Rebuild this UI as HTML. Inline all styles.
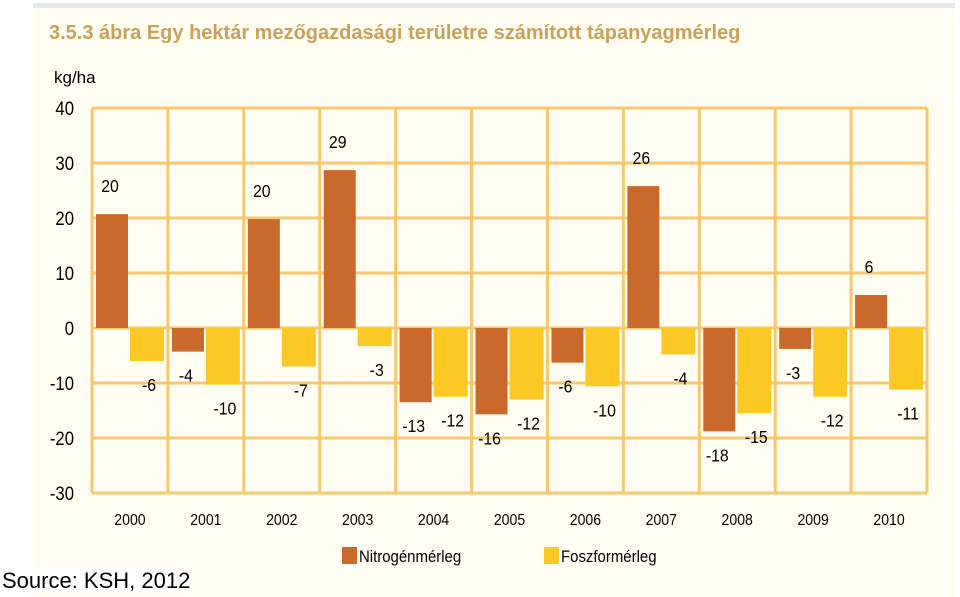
<!DOCTYPE html>
<html><head><meta charset="utf-8">
<style>
body{margin:0;width:960px;height:597px;background:#fff;overflow:hidden;font-family:"Liberation Sans",sans-serif;}
#panel{position:absolute;left:33px;top:8px;width:922px;height:589px;background:#fffdf1;}
#strip{position:absolute;left:33px;top:3px;width:922px;height:5px;background:#e6e8ee;}
#title{position:absolute;left:49px;top:22px;font-size:20px;font-weight:bold;color:#c9a05c;white-space:nowrap;}
#source{position:absolute;left:2px;top:568px;font-size:22px;color:#000;background:#fff;white-space:nowrap;}
svg{position:absolute;left:0;top:0}
svg text{font-family:"Liberation Sans",sans-serif;}
</style></head><body>
<div id="strip"></div>
<div id="panel"></div>
<div id="title">3.5.3 ábra Egy hektár mezőgazdasági területre számított tápanyagmérleg</div>
<svg id="chart" width="960" height="597"></svg>
<div id="source">Source: KSH, 2012</div>
<script>
const categories=["2000","2001","2002","2003","2004","2005","2006","2007","2008","2009","2010"];
const nitrogen=[20.7,-4.3,19.8,28.7,-13.5,-15.7,-6.3,25.8,-18.8,-3.8,6];
const phosphorus=[-6,-10.3,-7,-3.3,-12.5,-13,-10.6,-4.8,-15.5,-12.5,-11.2];
const nitrogenLabels=["20","-4","20","29","-13","-16","-6","26","-18","-3","6"];
const phosphorusLabels=["-6","-10","-7","-3","-12","-12","-10","-4","-15","-12","-11"];
const yTicks=[40,30,20,10,0,-10,-20,-30];
const NS="http://www.w3.org/2000/svg";
const svg=document.getElementById('chart');
const L=92,R=927,T=108,B=493,ymin=-30,ymax=40;
const y=v=>T+(ymax-v)/(ymax-ymin)*(B-T);
const cw=(R-L)/categories.length;
const x=i=>L+i*cw;
function mk(tag,attrs,parent){const e=document.createElementNS(NS,tag);for(const k in attrs)e.setAttribute(k,attrs[k]);(parent||svg).appendChild(e);return e;}
const grid=mk('g',{});


yTicks.forEach(t=>{
  const ln=mk('line',{x1:L,x2:R,y1:y(t),y2:y(t),stroke:'#f8c870','stroke-width':3},grid);
  
  
  const tx=mk('text',{x:74,y:y(t)+7,'text-anchor':'end','font-size':19,transform:`translate(${74*0.12},0) scale(0.88,1)`});
  tx.textContent=t;
  
  
});
for(let i=0;i<=categories.length;i++){
  const ln=mk('line',{x1:x(i),x2:x(i),y1:T,y2:B,stroke:'#f8c870','stroke-width':3},grid);
  
  
}
const unit=mk('text',{x:54,y:83,'font-size':17});
unit.textContent='kg/ha';


function bar(v,x0,w,color,name){
  const r=mk('rect',{x:x0,y:Math.min(y(v),y(0)),width:w,height:Math.abs(y(v)-y(0)),fill:color});
  
  
}
function lbl(txt,cx,v,name){
  const yy=v>=0?y(v)-22:y(v)+30;
  const t=mk('text',{x:cx/0.88,y:yy,'text-anchor':'middle','font-size':18,transform:'scale(0.88,1)'});
  t.textContent=txt;
  
  
}
categories.forEach((c,i)=>{
  bar(nitrogen[i],x(i)+4,32,'#c9692b','bar-nitrogen-'+c);
  bar(phosphorus[i],x(i)+38,34,'#fcc824','bar-phosphorus-'+c);
  lbl(nitrogenLabels[i],x(i)+18,nitrogen[i],'value-nitrogen-'+c);
  lbl(phosphorusLabels[i],x(i)+57,phosphorus[i],'value-phosphorus-'+c);
  const t=mk('text',{x:(x(i)+cw/2)/0.88,y:525,'text-anchor':'middle','font-size':16,transform:'scale(0.88,1)'});
  t.textContent=c;
  
  
});
function legend(x0,color,txt,name){
  const g=mk('g',{});
  
  
  mk('rect',{x:x0,y:547,width:15,height:17,fill:color},g);
  const t=mk('text',{x:(x0+17)/0.88,y:562,'font-size':17,transform:'scale(0.88,1)'},g);
  t.textContent=txt;
}
legend(342,'#c9692b','Nitrogénmérleg','legend-nitrogen');
legend(544,'#fcc824','Foszformérleg','legend-phosphorus');
</script>
</body></html>
